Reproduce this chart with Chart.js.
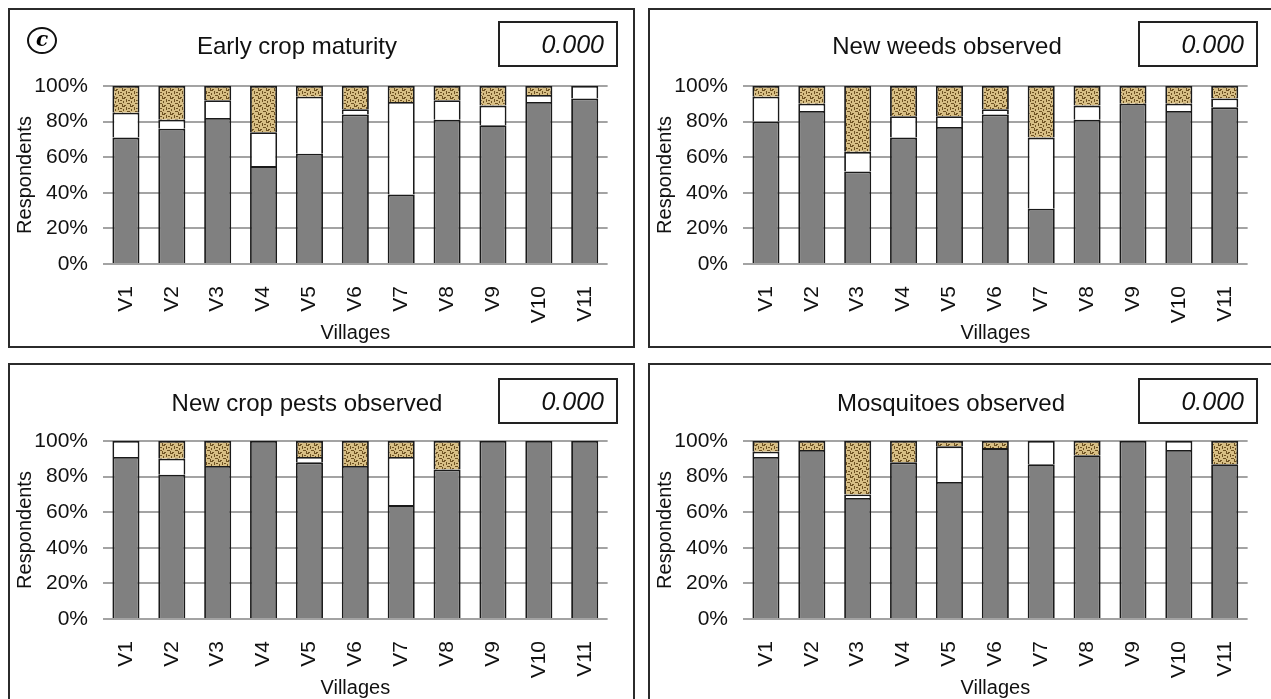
<!DOCTYPE html>
<html lang="en">
<head>
    <meta charset="UTF-8">
    <title>Village survey</title>
    <style>
        html, body {
            margin: 0;
            padding: 0;
            width: 1271px;
            height: 699px;
            overflow: hidden;
            background: #fff;
            font-family: "Liberation Sans", Arial, sans-serif;
        }

        .panel {
            position: absolute;
            width: 623px;
            height: 336px;
            border: 2px solid #2b2b2b;
        }

        .panel-chart {
            position: absolute;
            left: 0;
            top: 0;
            width: 623px;
            height: 336px;
        }

        .panel-title {
            position: absolute;
            top: 22px;
            font-size: 24px;
            color: #111;
            white-space: nowrap;
            transform: translateX(-50%);
        }

        .pvalue {
            position: absolute;
            left: 488px;
            top: 11px;
            width: 120px;
            height: 46px;
            border: 2px solid #222;
            box-sizing: border-box;
            font-size: 25px;
            font-style: italic;
            text-align: right;
            padding-right: 12px;
            line-height: 42px;
            color: #111;
        }

        .tag {
            position: absolute;
            left: 17px;
            top: 17px;
            width: 30px;
            height: 27px;
            border: 2px solid #111;
            border-radius: 50%;
            box-sizing: border-box;
            text-align: center;
            font-family: "DejaVu Serif", serif;
            font-style: italic;
            font-weight: bold;
            font-size: 20px;
            line-height: 21px;
        }
    </style>
</head>
<body>
    <div class="panel" style="left:8px; top:8px;">
        <div class="panel-chart"><canvas id="chart1"></canvas></div>
        <div class="tag">c</div>
        <div class="panel-title" style="left:287px;">Early crop maturity</div>
        <div class="pvalue">0.000</div>
    </div>
    <div class="panel" style="left:648px; top:8px;">
        <div class="panel-chart"><canvas id="chart2"></canvas></div>
        <div class="panel-title" style="left:297px;">New weeds observed</div>
        <div class="pvalue">0.000</div>
    </div>
    <div class="panel" style="left:8px; top:363px;">
        <div class="panel-chart"><canvas id="chart3"></canvas></div>
        <div class="panel-title" style="left:297px; top:24px;">New crop pests observed</div>
        <div class="pvalue" style="top:13px;">0.000</div>
    </div>
    <div class="panel" style="left:648px; top:363px;">
        <div class="panel-chart"><canvas id="chart4"></canvas></div>
        <div class="panel-title" style="left:301px; top:24px;">Mosquitoes observed</div>
        <div class="pvalue" style="top:13px;">0.000</div>
    </div>

    <script src="https://cdn.jsdelivr.net/npm/chart.js@4.4.1/dist/chart.umd.min.js"></script>
    <script>
        // villages
        const villages = ['V1','V2','V3','V4','V5','V6','V7','V8','V9','V10','V11'];
        const yTicks = [0, 20, 40, 60, 80, 100];

        // % respondents: grey / white / hatched parts of each bar
        const earlyGrey  = [71, 76, 82, 55, 62, 84, 39, 81, 78, 91, 93];
        const earlyWhite = [14,  5, 10, 19, 32,  3, 52, 11, 11,  4,  7];
        const earlyTan   = [15, 19,  8, 26,  6, 13,  9,  8, 11,  5,  0];

        const weedsGrey  = [80, 86, 52, 71, 77, 84, 31, 81, 90, 86, 88];
        const weedsWhite = [14,  4, 11, 12,  6,  3, 40,  8,  0,  4,  5];
        const weedsTan   = [ 6, 10, 37, 17, 17, 13, 29, 11, 10, 10,  7];

        const pestsGrey  = [91, 81, 86, 100, 88, 86, 64, 84, 100, 100, 100];
        const pestsWhite = [ 9,  9,  0,   0,  3,  0, 27,  0,   0,   0,   0];
        const pestsTan   = [ 0, 10, 14,   0,  9, 14,  9, 16,   0,   0,   0];

        const mosqGrey   = [91, 95, 68, 88, 77, 96, 87, 92, 100, 95, 87];
        const mosqWhite  = [ 3,  0,  2,  0, 20,  0, 13,  0,   0,  5,  0];
        const mosqTan    = [ 6,  5, 30, 12,  3,  4,  0,  8,   0,  0, 13];

        // small tan "woven" fill for the top part
        function makeWeave() {
            const c = document.createElement('canvas');
            c.width = 8;
            c.height = 8;
            const g = c.getContext('2d');
            g.fillStyle = '#d8bf85';
            g.fillRect(0, 0, 8, 8);
            g.fillStyle = '#6e5222';
            g.fillRect(0, 0, 3, 1);
            g.fillRect(4, 1, 1, 3);
            g.fillRect(1, 3, 1, 2);
            g.fillRect(5, 5, 3, 1);
            g.fillRect(0, 6, 1, 2);
            g.fillRect(2, 7, 2, 1);
            g.fillRect(6, 2, 2, 1);
            return g.createPattern(c, 'repeat');
        }
        const weave = makeWeave();

        function drawPanel(id, grey, white, tan) {
            // bottom edge skipped so stacked parts share one dividing line
            const bar = {
                borderColor: '#1a1a1a',
                borderWidth: 1.8,
                borderSkipped: 'bottom',
                barPercentage: 0.59,
                categoryPercentage: 1.0
            };
            new Chart(document.getElementById(id), {
                type: 'bar',
                data: {
                    labels: villages,
                    datasets: [
                        Object.assign({ label: 'grey', data: grey, backgroundColor: '#808080' }, bar),
                        Object.assign({ label: 'white', data: white, backgroundColor: '#ffffff' }, bar),
                        Object.assign({ label: 'tan', data: tan, backgroundColor: weave }, bar)
                    ]
                },
                options: {
                    responsive: true,
                    maintainAspectRatio: false,
                    animation: false,
                    layout: {
                        padding: { left: 0, right: 24, top: 76, bottom: 0 }
                    },
                    plugins: {
                        legend: { display: false },
                        tooltip: { enabled: false }
                    },
                    scales: {
                        x: {
                            stacked: true,
                            grid: { display: false, drawTicks: false },
                            border: { display: false },
                            ticks: {
                                color: '#111',
                                font: { family: 'Liberation Sans', size: 21 },
                                minRotation: 90,
                                maxRotation: 90,
                                padding: 22,
                                autoSkip: false
                            },
                            title: {
                                display: true,
                                text: 'Villages',
                                color: '#111',
                                font: { family: 'Liberation Sans', size: 20 },
                                padding: { top: 0, bottom: 1 }
                            },
                            afterFit: (scale) => { scale.height = 82; }
                        },
                        y: {
                            stacked: true,
                            min: 0,
                            max: 100,
                            afterBuildTicks: (scale) => {
                                scale.ticks = yTicks.map(v => ({ value: v }));
                            },
                            grid: { color: '#a3a3a3', lineWidth: 2, drawTicks: false },
                            border: { display: false },
                            ticks: {
                                color: '#111',
                                font: { family: 'Liberation Sans', size: 21 },
                                padding: 15,
                                callback: (v) => v + '%'
                            },
                            title: {
                                display: true,
                                text: 'Respondents',
                                color: '#111',
                                font: { family: 'Liberation Sans', size: 20 },
                                padding: { top: 3, bottom: 0 }
                            },
                            afterFit: (scale) => { scale.width = 93; }
                        }
                    }
                }
            });
        }

        drawPanel('chart1', earlyGrey, earlyWhite, earlyTan);
        drawPanel('chart2', weedsGrey, weedsWhite, weedsTan);
        drawPanel('chart3', pestsGrey, pestsWhite, pestsTan);
        drawPanel('chart4', mosqGrey, mosqWhite, mosqTan);
    </script>
</body>
</html>
